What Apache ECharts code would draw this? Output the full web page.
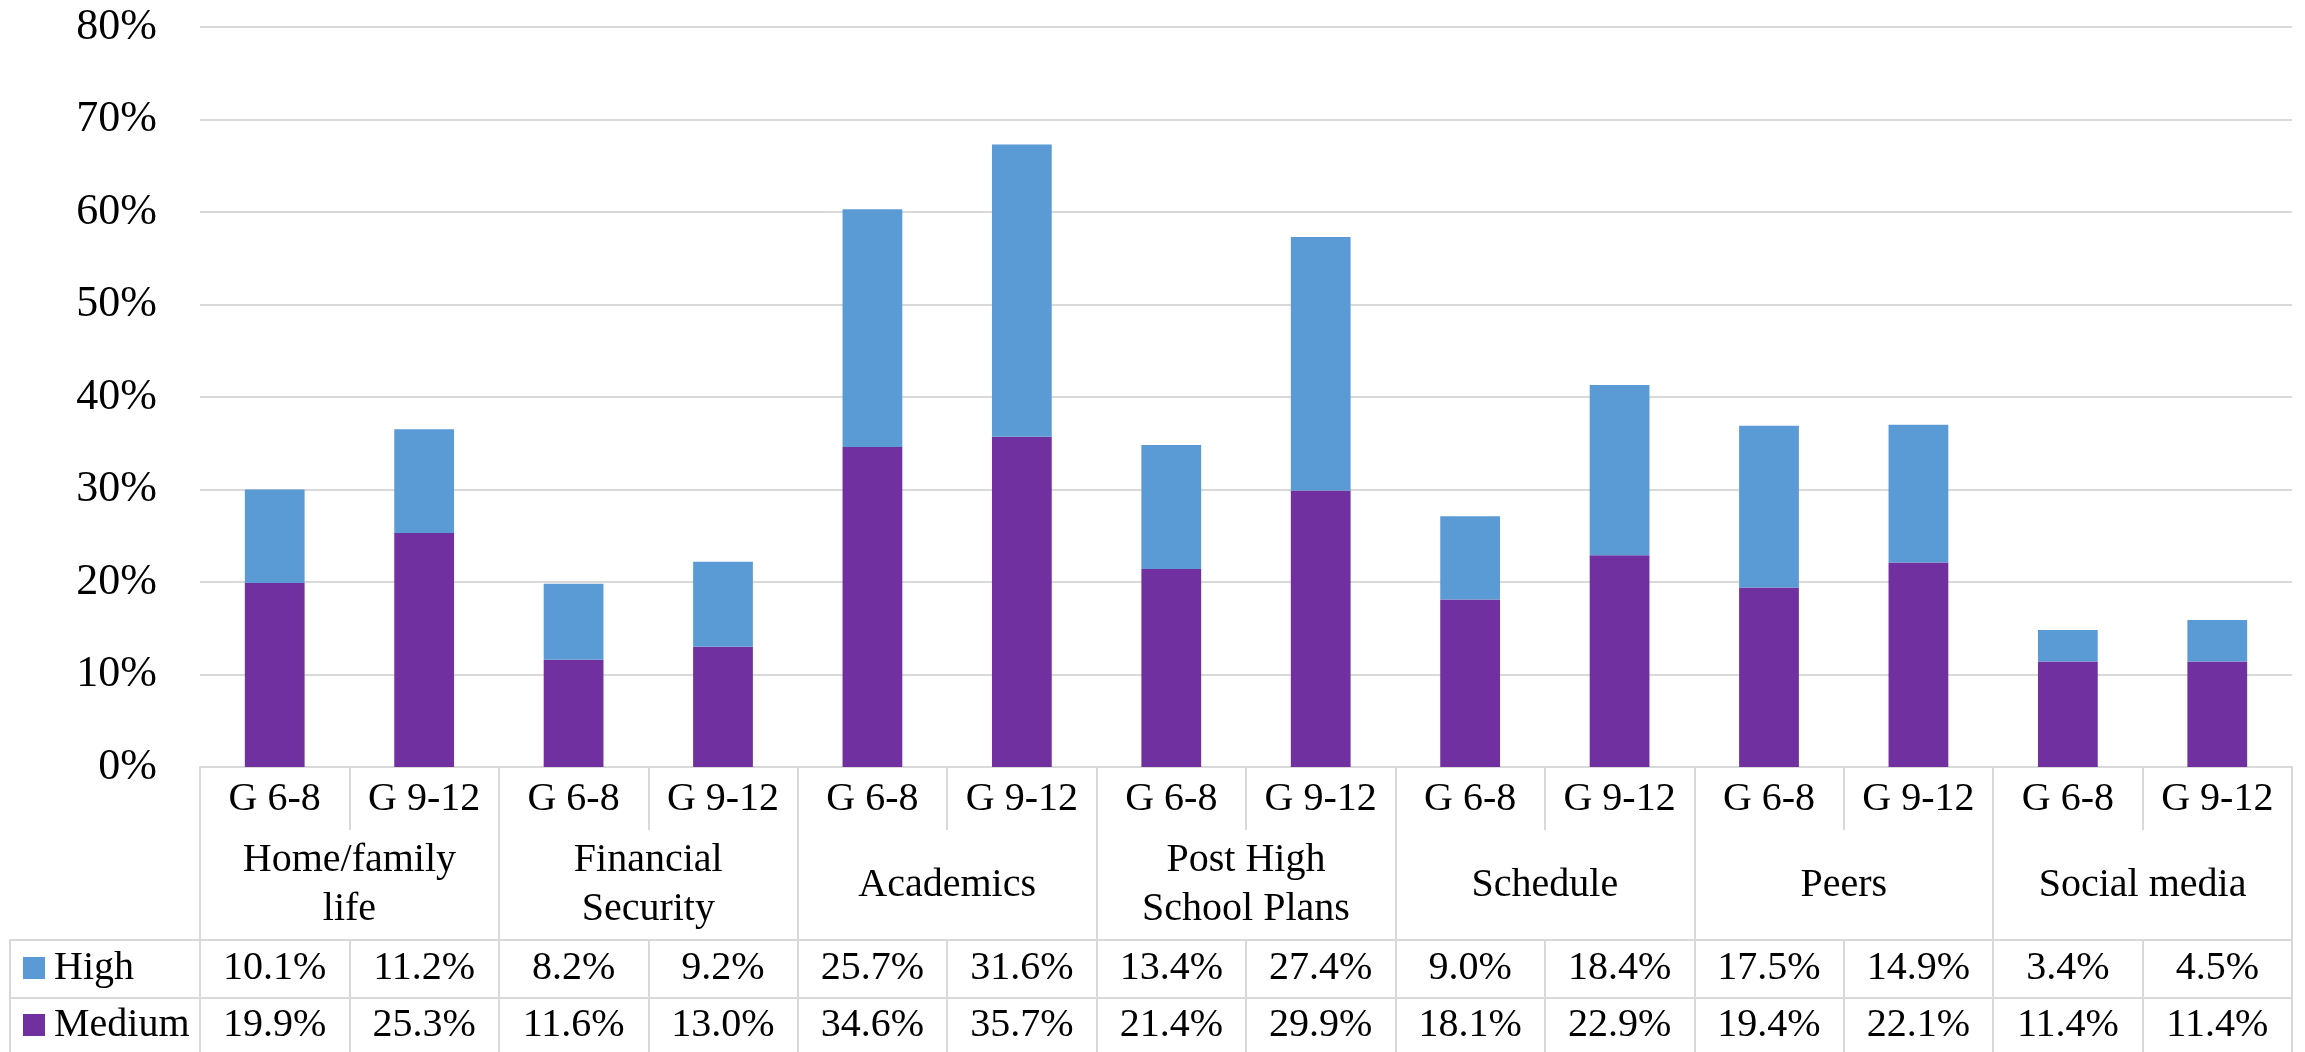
<!DOCTYPE html>
<html>
<head>
<meta charset="utf-8">
<script src="https://cdn.jsdelivr.net/npm/echarts@6/dist/echarts.min.js"></script>
<style>
html,body{margin:0;padding:0;background:#fff;}
#chart{width:2305px;height:1052px;}
</style>
</head>
<body>
<div id="chart"></div>
<script>
var gradeLabels = ['G 6-8','G 9-12','G 6-8','G 9-12','G 6-8','G 9-12','G 6-8','G 9-12','G 6-8','G 9-12','G 6-8','G 9-12','G 6-8','G 9-12'];
var groupLabels = ['Home/family\nlife','Financial\nSecurity','Academics','Post High\nSchool Plans','Schedule','Peers','Social media'];
var highValues = [10.1, 11.2, 8.2, 9.2, 25.7, 31.6, 13.4, 27.4, 9.0, 18.4, 17.5, 14.9, 3.4, 4.5];
var mediumValues = [19.9, 25.3, 11.6, 13.0, 34.6, 35.7, 21.4, 29.9, 18.1, 22.9, 19.4, 22.1, 11.4, 11.4];
var yTicks = [0, 10, 20, 30, 40, 50, 60, 70, 80];

var FONT = "'Liberation Serif', 'DejaVu Serif', serif";
var LINE = '#d9d9d9';
var fmt = function (v) { return v.toFixed(1) + '%'; };

var chart = echarts.init(document.getElementById('chart'));
var gridTop = 27, gridBottom = 285, gridLeft = 200, gridRight = 13;

var option = {
  animation: false,
  backgroundColor: '#fff',
  textStyle: { fontFamily: FONT, color: '#000' },
  grid: { left: gridLeft, right: gridRight, top: gridTop, bottom: gridBottom, containLabel: false },
  legend: {
    data: ['High', 'Medium'],
    orient: 'vertical',
    left: 23,
    top: 948,
    height: 104,
    padding: 0,
    itemWidth: 22,
    itemHeight: 22,
    itemGap: 17,
    icon: 'rect',
    selectedMode: false,
    textStyle: { fontFamily: FONT, fontSize: 40, color: '#000', lineHeight: 40, padding: [0, 0, 0, 4] }
  },
  yAxis: {
    type: 'value',
    min: yTicks[0],
    max: yTicks[yTicks.length - 1],
    interval: 10,
    axisLine: { show: false },
    axisTick: { show: false },
    axisLabel: { formatter: '{value}%', fontSize: 44, fontFamily: FONT, color: '#000', margin: 43 },
    splitLine: { lineStyle: { color: LINE, width: 2 } }
  },
  xAxis: [
    {
      type: 'category',
      data: gradeLabels,
      position: 'bottom',
      axisLine: { show: true, lineStyle: { color: LINE, width: 2 } },
      axisTick: { show: true, interval: 0, length: 63, lineStyle: { color: LINE, width: 2 } },
      axisLabel: { interval: 0, fontSize: 40, fontFamily: FONT, color: '#000', verticalAlign: 'middle', margin: 32 }
    },
    {
      type: 'category',
      data: groupLabels,
      position: 'bottom',
      offset: 0,
      axisLine: { show: false },
      axisTick: { show: true, interval: 0, length: 173, lineStyle: { color: LINE, width: 2 } },
      axisLabel: { interval: 0, fontSize: 40, fontFamily: FONT, color: '#000', verticalAlign: 'middle', lineHeight: 49, margin: 118 }
    },
    {
      type: 'category',
      data: highValues.map(fmt),
      position: 'bottom',
      offset: 173,
      axisLine: { show: true, lineStyle: { color: LINE, width: 2 } },
      axisTick: { show: true, interval: 0, length: 58, lineStyle: { color: LINE, width: 2 } },
      axisLabel: { interval: 0, fontSize: 40, fontFamily: FONT, color: '#000', verticalAlign: 'middle', margin: 28 }
    },
    {
      type: 'category',
      data: mediumValues.map(fmt),
      position: 'bottom',
      offset: 231,
      axisLine: { show: true, lineStyle: { color: LINE, width: 2 } },
      axisTick: { show: true, interval: 0, length: 70, lineStyle: { color: LINE, width: 2 } },
      axisLabel: { interval: 0, fontSize: 40, fontFamily: FONT, color: '#000', verticalAlign: 'middle', margin: 27 }
    }
  ],
  graphic: [
    { type: 'line', shape: { x1: 10, y1: 940, x2: 200, y2: 940 }, style: { stroke: LINE, lineWidth: 2 }, silent: true },
    { type: 'line', shape: { x1: 10, y1: 998, x2: 200, y2: 998 }, style: { stroke: LINE, lineWidth: 2 }, silent: true },
    { type: 'line', shape: { x1: 10, y1: 939, x2: 10, y2: 1052 }, style: { stroke: LINE, lineWidth: 2 }, silent: true }
  ],
  series: [
    {
      name: 'Medium',
      type: 'bar',
      stack: 'total',
      xAxisIndex: 0,
      barWidth: '40%',
      itemStyle: { color: '#7030A0' },
      data: mediumValues
    },
    {
      name: 'High',
      type: 'bar',
      stack: 'total',
      xAxisIndex: 0,
      barWidth: '40%',
      itemStyle: { color: '#5B9BD5' },
      data: highValues
    }
  ]
};
chart.setOption(option);
</script>
</body>
</html>
